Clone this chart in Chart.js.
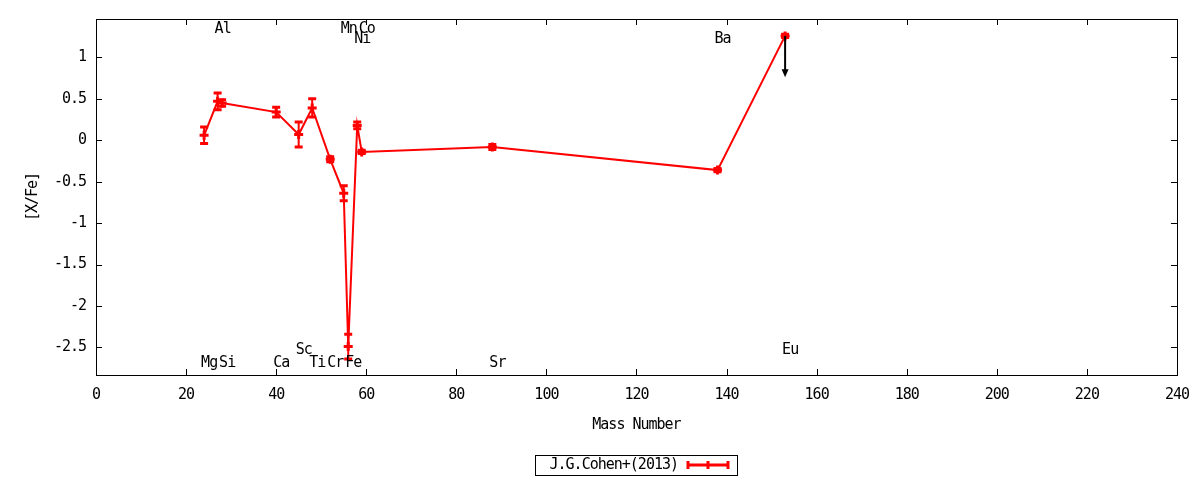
<!DOCTYPE html>
<html>
<head>
<meta charset="utf-8">
<script src="https://cdn.jsdelivr.net/npm/chart.js@4/dist/chart.umd.min.js"></script>
<style>
  html, body { margin: 0; padding: 0; background: #fff; }
  #abundChart { display: block; }
</style>
</head>
<body>
<canvas id="abundChart" width="1200" height="480"></canvas>
<script>
// element abundances, J.G.Cohen+(2013)
const elements   = ['Mg', 'Al', 'Si', 'Ca', 'Sc', 'Ti', 'Cr', 'Mn', 'Fe', 'Ni', 'Co', 'Sr', 'Ba', 'Eu'];
const massNumber = [24, 27, 28, 40, 45, 48, 52, 55, 56, 58, 59, 88, 138, 153];
const xOverFe    = [0.06, 0.47, 0.45, 0.34, 0.07, 0.39, -0.23, -0.64, -2.49, 0.18, -0.14, -0.08, -0.36, 1.26];
const xOverFeErr = [0.10, 0.10, 0.04, 0.06, 0.15, 0.11, 0.03, 0.09, 0.15, 0.04, 0.02, 0.03, 0.02, 0.02];
const upperLimit = [false, false, false, false, false, false, false, false, false, false, false, false, false, true];
const limitLength = 0.5;

// where the element names sit (in [X/Fe] units)
const nameY = [-2.69, 1.34, -2.69, -2.69, -2.53, -2.69, -2.69, 1.34, -2.69, 1.22, 1.34, -2.69, 1.22, -2.53];

const xTicks = [0, 20, 40, 60, 80, 100, 120, 140, 160, 180, 200, 220, 240];
const yTicks = [-2.5, -2, -1.5, -1, -0.5, 0, 0.5, 1];
const legendLabel = 'J.G.Cohen+(2013)';

const RED = '#ff0000';
const FONT = "'DejaVu Sans Mono', monospace";
const FONT_SIZE = 15;

Chart.defaults.font.family = FONT;
Chart.defaults.font.size = FONT_SIZE;
Chart.defaults.color = '#000';

// gnuplot's font is narrow, tighten the letters a bit
function tighten(chart) {
    chart.ctx.letterSpacing = '-1px';
}

const gnuplotLook = {
    id: 'gnuplotLook',
    beforeUpdate: tighten,
    beforeLayout: tighten,
    beforeDraw: tighten,
    afterDatasetsDraw(chart) {
        const ctx = chart.ctx;
        const xs = chart.scales.x, ys = chart.scales.y;
        ctx.save();
        // error bars
        ctx.strokeStyle = RED;
        massNumber.forEach(function (m, i) {
            const px = xs.getPixelForValue(m);
            const top = ys.getPixelForValue(xOverFe[i] + xOverFeErr[i]);
            const bot = ys.getPixelForValue(xOverFe[i] - xOverFeErr[i]);
            ctx.lineWidth = 2;
            ctx.beginPath();
            ctx.moveTo(px, top);
            ctx.lineTo(px, bot);
            ctx.stroke();
            ctx.lineWidth = 3;
            ctx.beginPath();
            ctx.moveTo(px - 4, top);
            ctx.lineTo(px + 4, top);
            ctx.moveTo(px - 4, bot);
            ctx.lineTo(px + 4, bot);
            ctx.stroke();
        });
        // upper limit arrows
        ctx.strokeStyle = '#000';
        ctx.fillStyle = '#000';
        massNumber.forEach(function (m, i) {
            if (!upperLimit[i]) return;
            const px = xs.getPixelForValue(m);
            const y0 = ys.getPixelForValue(xOverFe[i]);
            const y1 = ys.getPixelForValue(xOverFe[i] - limitLength);
            ctx.lineWidth = 2;
            ctx.beginPath();
            ctx.moveTo(px, y0);
            ctx.lineTo(px, y1 - 5);
            ctx.stroke();
            ctx.beginPath();
            ctx.moveTo(px - 3.5, y1 - 8);
            ctx.lineTo(px + 3.5, y1 - 8);
            ctx.lineTo(px, y1);
            ctx.closePath();
            ctx.fill();
        });
        ctx.restore();
    },
    afterDraw(chart) {
        const ctx = chart.ctx;
        const xs = chart.scales.x, ys = chart.scales.y;
        const a = chart.chartArea;
        ctx.save();
        // border and inward ticks on every side
        ctx.strokeStyle = '#000';
        ctx.lineWidth = 1;
        ctx.strokeRect(Math.round(a.left) + 0.5, Math.round(a.top) + 0.5,
            Math.round(a.right - a.left), Math.round(a.bottom - a.top));
        ctx.beginPath();
        xTicks.forEach(function (v) {
            const px = Math.round(xs.getPixelForValue(v)) + 0.5;
            ctx.moveTo(px, a.bottom);
            ctx.lineTo(px, a.bottom - 6);
            ctx.moveTo(px, a.top);
            ctx.lineTo(px, a.top + 6);
        });
        yTicks.forEach(function (v) {
            const py = Math.round(ys.getPixelForValue(v)) + 0.5;
            ctx.moveTo(a.left, py);
            ctx.lineTo(a.left + 6, py);
            ctx.moveTo(a.right, py);
            ctx.lineTo(a.right - 6, py);
        });
        ctx.stroke();
        // element names
        ctx.fillStyle = '#000';
        ctx.font = FONT_SIZE + 'px ' + FONT;
        ctx.letterSpacing = '-1px';
        ctx.textAlign = 'left';
        ctx.textBaseline = 'middle';
        elements.forEach(function (el, i) {
            ctx.fillText(el, xs.getPixelForValue(massNumber[i]) - 3, ys.getPixelForValue(nameY[i]));
        });
        // key box
        ctx.strokeRect(535.5, 455.5, 202, 20);
        ctx.textAlign = 'right';
        ctx.fillText(legendLabel, 678, 465);
        ctx.strokeStyle = RED;
        ctx.lineWidth = 3;
        ctx.beginPath();
        ctx.moveTo(687, 465);
        ctx.lineTo(729, 465);
        ctx.moveTo(688, 461);
        ctx.lineTo(688, 469);
        ctx.moveTo(728, 461);
        ctx.lineTo(728, 469);
        ctx.moveTo(708, 461);
        ctx.lineTo(708, 469);
        ctx.stroke();
        ctx.restore();
    }
};

const ctx = document.getElementById('abundChart').getContext('2d');
const abundChart = new Chart(ctx, {
    type: 'scatter',
    data: {
        datasets: [{
            label: legendLabel,
            data: massNumber.map(function (m, i) { return {x: m, y: xOverFe[i]}; }),
            showLine: true,
            borderColor: RED,
            backgroundColor: RED,
            borderWidth: 2,
            pointStyle: 'cross',
            pointRadius: 4.5,
            pointBorderWidth: 3,
            pointBorderColor: RED,
            tension: 0
        }]
    },
    options: {
        responsive: false,
        animation: false,
        devicePixelRatio: 1,
        layout: { padding: { left: 0, right: 23, top: 17, bottom: 0 } },
        plugins: {
            legend: { display: false },
            tooltip: { enabled: false }
        },
        scales: {
            x: {
                type: 'linear',
                min: 0,
                max: 240,
                afterBuildTicks: function (scale) {
                    scale.ticks = xTicks.map(function (v) { return {value: v}; });
                },
                afterFit: function (scale) { scale.height = 105; },
                ticks: { padding: 11, maxRotation: 0, autoSkip: false },
                grid: { display: false, drawTicks: false },
                border: { display: false },
                title: { display: true, text: 'Mass Number', padding: { top: 46, bottom: 46 } }
            },
            y: {
                type: 'linear',
                min: -2.833,
                max: 1.464,
                afterBuildTicks: function (scale) {
                    scale.ticks = yTicks.map(function (v) { return {value: v}; });
                },
                afterFit: function (scale) { scale.width = 96; },
                ticks: {
                    padding: 10,
                    autoSkip: false,
                    callback: function (v) { return String(v); }
                },
                grid: { display: false, drawTicks: false },
                border: { display: false },
                title: { display: true, text: '[X/Fe]', padding: { top: 24, bottom: 24 } }
            }
        }
    },
    plugins: [gnuplotLook]
});
</script>
</body>
</html>
